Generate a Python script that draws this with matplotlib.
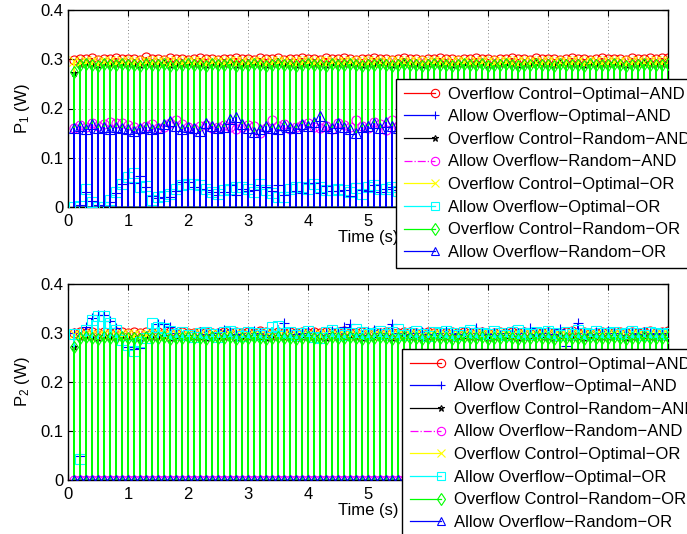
import matplotlib
matplotlib.use("Agg")
import matplotlib.pyplot as plt
import numpy as np
from matplotlib.lines import Line2D
from matplotlib.legend_handler import HandlerLine2D

plt.rcParams['font.family'] = ['Liberation Sans', 'DejaVu Sans']
plt.rcParams['font.size'] = 12
plt.rcParams['mathtext.fontset'] = 'custom'
plt.rcParams['mathtext.rm'] = 'Liberation Sans'
plt.rcParams['mathtext.it'] = 'Liberation Sans'

# sample instants (s)
t = np.round(np.arange(1, 101) * 0.1, 1)

labels = ['Overflow Control\u2212Optimal\u2212AND',
          'Allow Overflow\u2212Optimal\u2212AND',
          'Overflow Control\u2212Random\u2212AND',
          'Allow Overflow\u2212Random\u2212AND',
          'Overflow Control\u2212Optimal\u2212OR',
          'Allow Overflow\u2212Optimal\u2212OR',
          'Overflow Control\u2212Random\u2212OR',
          'Allow Overflow\u2212Random\u2212OR']
colors = ['#ff0000', '#0000ff', '#000000', '#ff00ff',
          '#ffff00', '#00ffff', '#00ff00', '#0000ff']
markers = ['o', '+', '*', 'o', 'x', 's', 'd', '^']
styles = ['-', '-', '-', '-.', '-', '-', '-', '-']

# ---- user 1 power (W) ----
p1_oc_opt_and = [
    0.298, 0.301, 0.300, 0.302, 0.299, 0.301, 0.300, 0.302, 0.301, 0.300,
    0.301, 0.299, 0.304, 0.300, 0.301, 0.299, 0.302, 0.300, 0.301, 0.299,
    0.300, 0.302, 0.301, 0.300, 0.299, 0.301, 0.300, 0.302, 0.300, 0.301,
    0.299, 0.303, 0.301, 0.300, 0.302, 0.299, 0.301, 0.300, 0.302, 0.300,
    0.301, 0.299, 0.302, 0.300, 0.301, 0.303, 0.300, 0.299, 0.301, 0.300,
    0.302, 0.300, 0.301, 0.299, 0.300, 0.302, 0.301, 0.300, 0.299, 0.301,
    0.300, 0.302, 0.300, 0.301, 0.299, 0.301, 0.300, 0.302, 0.301, 0.300,
    0.299, 0.301, 0.300, 0.302, 0.300, 0.301, 0.299, 0.302, 0.300, 0.301,
    0.300, 0.299, 0.301, 0.303, 0.300, 0.301, 0.299, 0.300, 0.302, 0.301,
    0.300, 0.301, 0.299, 0.302, 0.300, 0.301, 0.303, 0.300, 0.302, 0.303]
p1_ao_opt_and = [
    0.000, 0.005, 0.030, 0.012, 0.004, 0.003, 0.011, 0.028, 0.047, 0.050,
    0.048, 0.062, 0.040, 0.022, 0.019, 0.020, 0.020, 0.033, 0.050, 0.050,
    0.040, 0.036, 0.035, 0.030, 0.025, 0.030, 0.044, 0.025, 0.036, 0.033,
    0.035, 0.045, 0.040, 0.033, 0.044, 0.025, 0.030, 0.032, 0.029, 0.049,
    0.049, 0.028, 0.042, 0.032, 0.033, 0.034, 0.023, 0.048, 0.035, 0.032,
    0.044, 0.030, 0.036, 0.041, 0.034, 0.030, 0.038, 0.042, 0.031, 0.036,
    0.040, 0.033, 0.029, 0.037, 0.044, 0.035, 0.031, 0.039, 0.036, 0.030,
    0.042, 0.037, 0.033, 0.035, 0.040, 0.032, 0.038, 0.034, 0.030, 0.041,
    0.036, 0.033, 0.039, 0.035, 0.031, 0.043, 0.036, 0.034, 0.038, 0.032,
    0.037, 0.040, 0.033, 0.035, 0.039, 0.031, 0.036, 0.038, 0.034, 0.036]
p1_oc_rand_and = [
    0.272, 0.290, 0.292, 0.291, 0.289, 0.292, 0.290, 0.291, 0.293, 0.290,
    0.291, 0.289, 0.292, 0.290, 0.291, 0.292, 0.289, 0.291, 0.290, 0.292,
    0.291, 0.290, 0.289, 0.292, 0.291, 0.290, 0.292, 0.289, 0.291, 0.290,
    0.292, 0.291, 0.289, 0.290, 0.292, 0.291, 0.290, 0.289, 0.291, 0.292,
    0.290, 0.291, 0.289, 0.292, 0.290, 0.291, 0.292, 0.290, 0.289, 0.291,
    0.290, 0.292, 0.291, 0.289, 0.290, 0.292, 0.291, 0.290, 0.289, 0.291,
    0.292, 0.290, 0.291, 0.289, 0.290, 0.292, 0.291, 0.290, 0.292, 0.289,
    0.291, 0.290, 0.292, 0.291, 0.289, 0.290, 0.291, 0.292, 0.290, 0.291,
    0.289, 0.292, 0.290, 0.291, 0.290, 0.289, 0.292, 0.291, 0.290, 0.291,
    0.292, 0.290, 0.289, 0.291, 0.290, 0.292, 0.291, 0.290, 0.291, 0.292]
p1_ao_rand_and = [
    0.160, 0.166, 0.162, 0.170, 0.165, 0.168, 0.172, 0.171, 0.170, 0.166,
    0.162, 0.158, 0.165, 0.168, 0.160, 0.163, 0.170, 0.176, 0.168, 0.162,
    0.158, 0.165, 0.167, 0.160, 0.163, 0.166, 0.162, 0.158, 0.163, 0.166,
    0.165, 0.150, 0.160, 0.176, 0.165, 0.168, 0.158, 0.162, 0.166, 0.170,
    0.163, 0.160, 0.165, 0.158, 0.170, 0.166, 0.162, 0.176, 0.164, 0.160,
    0.173, 0.168, 0.156, 0.176, 0.165, 0.160, 0.170, 0.166, 0.162, 0.168,
    0.164, 0.159, 0.170, 0.167, 0.161, 0.165, 0.172, 0.163, 0.158, 0.166,
    0.170, 0.162, 0.165, 0.168, 0.160, 0.164, 0.171, 0.166, 0.161, 0.167,
    0.163, 0.169, 0.160, 0.165, 0.172, 0.164, 0.159, 0.166, 0.170, 0.162,
    0.167, 0.161, 0.168, 0.164, 0.160, 0.171, 0.165, 0.162, 0.168, 0.164]
p1_oc_opt_or = [
    0.296, 0.295, 0.297, 0.296, 0.295, 0.296, 0.297, 0.295, 0.296, 0.297,
    0.296, 0.295, 0.296, 0.297, 0.296, 0.295, 0.297, 0.296, 0.295, 0.296,
    0.297, 0.296, 0.295, 0.296, 0.297, 0.295, 0.296, 0.297, 0.296, 0.295,
    0.296, 0.297, 0.295, 0.296, 0.296, 0.297, 0.295, 0.296, 0.297, 0.296,
    0.295, 0.296, 0.297, 0.296, 0.295, 0.297, 0.296, 0.295, 0.296, 0.297,
    0.296, 0.295, 0.296, 0.297, 0.296, 0.295, 0.296, 0.297, 0.295, 0.296,
    0.297, 0.296, 0.295, 0.296, 0.297, 0.296, 0.295, 0.296, 0.297, 0.296,
    0.295, 0.297, 0.296, 0.295, 0.296, 0.297, 0.296, 0.295, 0.296, 0.297,
    0.296, 0.295, 0.296, 0.297, 0.296, 0.295, 0.297, 0.296, 0.295, 0.296,
    0.297, 0.296, 0.295, 0.296, 0.297, 0.295, 0.296, 0.297, 0.296, 0.296]
p1_ao_opt_or = [
    0.000, 0.002, 0.037, 0.010, 0.000, 0.000, 0.014, 0.030, 0.047, 0.061,
    0.070, 0.041, 0.042, 0.014, 0.020, 0.022, 0.027, 0.037, 0.044, 0.046,
    0.047, 0.044, 0.037, 0.030, 0.027, 0.034, 0.036, 0.041, 0.040, 0.037,
    0.030, 0.047, 0.034, 0.028, 0.020, 0.020, 0.037, 0.040, 0.040, 0.037,
    0.047, 0.041, 0.034, 0.034, 0.037, 0.034, 0.030, 0.038, 0.027, 0.040,
    0.044, 0.037, 0.036, 0.040, 0.032, 0.038, 0.041, 0.035, 0.029, 0.037,
    0.043, 0.036, 0.031, 0.039, 0.042, 0.034, 0.030, 0.038, 0.040, 0.033,
    0.036, 0.041, 0.035, 0.032, 0.039, 0.037, 0.030, 0.036, 0.042, 0.034,
    0.038, 0.031, 0.037, 0.040, 0.033, 0.036, 0.041, 0.035, 0.032, 0.038,
    0.036, 0.039, 0.034, 0.031, 0.037, 0.040, 0.035, 0.033, 0.038, 0.036]
p1_oc_rand_or = [
    0.274, 0.288, 0.290, 0.289, 0.287, 0.290, 0.288, 0.289, 0.291, 0.288,
    0.289, 0.287, 0.290, 0.288, 0.289, 0.290, 0.287, 0.289, 0.288, 0.290,
    0.289, 0.288, 0.287, 0.290, 0.289, 0.288, 0.290, 0.287, 0.289, 0.288,
    0.290, 0.289, 0.287, 0.288, 0.290, 0.289, 0.288, 0.287, 0.289, 0.290,
    0.288, 0.289, 0.287, 0.290, 0.288, 0.289, 0.290, 0.288, 0.287, 0.289,
    0.288, 0.290, 0.289, 0.287, 0.288, 0.290, 0.289, 0.288, 0.287, 0.289,
    0.290, 0.288, 0.289, 0.287, 0.288, 0.290, 0.289, 0.288, 0.290, 0.287,
    0.289, 0.288, 0.290, 0.289, 0.287, 0.288, 0.289, 0.290, 0.288, 0.289,
    0.287, 0.290, 0.288, 0.289, 0.288, 0.287, 0.290, 0.289, 0.288, 0.289,
    0.290, 0.288, 0.287, 0.289, 0.288, 0.290, 0.289, 0.288, 0.289, 0.290]
p1_ao_rand_or = [
    0.160, 0.165, 0.158, 0.168, 0.160, 0.163, 0.158, 0.162, 0.160, 0.158,
    0.155, 0.160, 0.163, 0.158, 0.160, 0.168, 0.175, 0.165, 0.158, 0.162,
    0.160, 0.155, 0.170, 0.165, 0.160, 0.163, 0.178, 0.183, 0.168, 0.160,
    0.152, 0.158, 0.165, 0.160, 0.158, 0.166, 0.163, 0.160, 0.168, 0.165,
    0.172, 0.185, 0.165, 0.160, 0.170, 0.163, 0.158, 0.150, 0.162, 0.165,
    0.170, 0.160, 0.172, 0.165, 0.160, 0.167, 0.158, 0.163, 0.170, 0.162,
    0.159, 0.166, 0.173, 0.161, 0.157, 0.164, 0.170, 0.163, 0.160, 0.168,
    0.175, 0.162, 0.158, 0.165, 0.171, 0.160, 0.163, 0.169, 0.158, 0.164,
    0.172, 0.161, 0.166, 0.159, 0.168, 0.174, 0.162, 0.157, 0.165, 0.170,
    0.163, 0.160, 0.167, 0.172, 0.161, 0.158, 0.166, 0.170, 0.162, 0.165]

# ---- user 2 power (W) ----
p2_oc_opt_and = [
    0.299, 0.302, 0.301, 0.303, 0.300, 0.302, 0.301, 0.303, 0.302, 0.301,
    0.302, 0.300, 0.303, 0.301, 0.302, 0.300, 0.303, 0.301, 0.302, 0.300,
    0.301, 0.303, 0.302, 0.301, 0.300, 0.302, 0.301, 0.303, 0.301, 0.302,
    0.300, 0.304, 0.302, 0.301, 0.303, 0.300, 0.302, 0.301, 0.303, 0.301,
    0.302, 0.300, 0.303, 0.301, 0.302, 0.304, 0.301, 0.300, 0.302, 0.301,
    0.303, 0.301, 0.302, 0.300, 0.301, 0.303, 0.302, 0.301, 0.300, 0.302,
    0.301, 0.303, 0.301, 0.302, 0.300, 0.302, 0.301, 0.303, 0.302, 0.301,
    0.300, 0.302, 0.301, 0.303, 0.301, 0.302, 0.300, 0.303, 0.301, 0.302,
    0.301, 0.300, 0.302, 0.304, 0.301, 0.302, 0.300, 0.301, 0.303, 0.302,
    0.301, 0.302, 0.300, 0.303, 0.301, 0.302, 0.304, 0.301, 0.303, 0.304]
p2_ao_opt_and = [
    0.300, 0.050, 0.312, 0.330, 0.337, 0.337, 0.325, 0.310, 0.292, 0.272,
    0.268, 0.270, 0.292, 0.305, 0.318, 0.318, 0.312, 0.300, 0.294, 0.290,
    0.296, 0.302, 0.298, 0.293, 0.300, 0.306, 0.303, 0.298, 0.295, 0.301,
    0.304, 0.299, 0.296, 0.302, 0.307, 0.320, 0.303, 0.297, 0.300, 0.305,
    0.301, 0.296, 0.299, 0.304, 0.300, 0.313, 0.318, 0.300, 0.296, 0.302,
    0.306, 0.299, 0.295, 0.318, 0.301, 0.297, 0.303, 0.299, 0.302, 0.298,
    0.296, 0.301, 0.304, 0.299, 0.297, 0.302, 0.300, 0.310, 0.303, 0.298,
    0.301, 0.296, 0.300, 0.305, 0.299, 0.302, 0.310, 0.297, 0.301, 0.303,
    0.298, 0.308, 0.273, 0.303, 0.320, 0.300, 0.297, 0.302, 0.299, 0.304,
    0.300, 0.296, 0.303, 0.301, 0.298, 0.302, 0.299, 0.297, 0.301, 0.300]
p2_oc_rand_and = [
    0.272, 0.291, 0.293, 0.292, 0.290, 0.293, 0.291, 0.292, 0.294, 0.291,
    0.292, 0.290, 0.293, 0.291, 0.292, 0.293, 0.290, 0.292, 0.291, 0.293,
    0.292, 0.291, 0.290, 0.293, 0.292, 0.291, 0.293, 0.290, 0.292, 0.291,
    0.293, 0.292, 0.290, 0.291, 0.293, 0.292, 0.291, 0.290, 0.292, 0.293,
    0.291, 0.292, 0.290, 0.293, 0.291, 0.292, 0.293, 0.291, 0.290, 0.292,
    0.291, 0.293, 0.292, 0.290, 0.291, 0.293, 0.292, 0.291, 0.290, 0.292,
    0.293, 0.291, 0.292, 0.290, 0.291, 0.293, 0.292, 0.291, 0.293, 0.290,
    0.292, 0.291, 0.293, 0.292, 0.290, 0.291, 0.292, 0.293, 0.291, 0.292,
    0.290, 0.293, 0.291, 0.292, 0.291, 0.290, 0.293, 0.292, 0.291, 0.292,
    0.293, 0.291, 0.290, 0.292, 0.291, 0.293, 0.292, 0.291, 0.292, 0.293]
p2_ao_rand_and = [0.0] * 100
p2_oc_opt_or = [
    0.297, 0.296, 0.298, 0.297, 0.296, 0.297, 0.298, 0.296, 0.297, 0.298,
    0.297, 0.296, 0.297, 0.298, 0.297, 0.296, 0.298, 0.297, 0.296, 0.297,
    0.298, 0.297, 0.296, 0.297, 0.298, 0.296, 0.297, 0.298, 0.297, 0.296,
    0.297, 0.298, 0.296, 0.297, 0.297, 0.298, 0.296, 0.297, 0.298, 0.297,
    0.296, 0.297, 0.298, 0.297, 0.296, 0.298, 0.297, 0.296, 0.297, 0.298,
    0.297, 0.296, 0.297, 0.298, 0.297, 0.296, 0.297, 0.298, 0.296, 0.297,
    0.298, 0.297, 0.296, 0.297, 0.298, 0.297, 0.296, 0.297, 0.298, 0.297,
    0.296, 0.298, 0.297, 0.296, 0.297, 0.298, 0.297, 0.296, 0.297, 0.298,
    0.297, 0.296, 0.297, 0.298, 0.297, 0.296, 0.298, 0.297, 0.296, 0.297,
    0.298, 0.297, 0.296, 0.297, 0.298, 0.296, 0.297, 0.298, 0.297, 0.297]
p2_ao_opt_or = [
    0.297, 0.043, 0.306, 0.327, 0.335, 0.335, 0.320, 0.306, 0.286, 0.275,
    0.263, 0.281, 0.290, 0.321, 0.312, 0.310, 0.305, 0.298, 0.302, 0.296,
    0.292, 0.299, 0.303, 0.297, 0.291, 0.302, 0.305, 0.299, 0.294, 0.303,
    0.300, 0.296, 0.301, 0.312, 0.315, 0.299, 0.302, 0.296, 0.300, 0.305,
    0.292, 0.290, 0.303, 0.307, 0.299, 0.295, 0.301, 0.309, 0.303, 0.297,
    0.300, 0.304, 0.298, 0.302, 0.309, 0.296, 0.301, 0.305, 0.298, 0.294,
    0.302, 0.299, 0.305, 0.300, 0.296, 0.303, 0.306, 0.299, 0.301, 0.297,
    0.304, 0.299, 0.296, 0.302, 0.307, 0.300, 0.297, 0.303, 0.299, 0.305,
    0.301, 0.296, 0.302, 0.298, 0.306, 0.300, 0.297, 0.304, 0.299, 0.301,
    0.303, 0.298, 0.300, 0.305, 0.299, 0.296, 0.302, 0.300, 0.298, 0.301]
p2_oc_rand_or = [
    0.272, 0.289, 0.291, 0.290, 0.288, 0.291, 0.289, 0.290, 0.292, 0.289,
    0.290, 0.288, 0.291, 0.289, 0.290, 0.291, 0.288, 0.290, 0.289, 0.291,
    0.290, 0.289, 0.288, 0.291, 0.290, 0.289, 0.291, 0.288, 0.290, 0.289,
    0.291, 0.290, 0.288, 0.289, 0.291, 0.290, 0.289, 0.288, 0.290, 0.291,
    0.289, 0.290, 0.288, 0.291, 0.289, 0.290, 0.291, 0.289, 0.288, 0.290,
    0.289, 0.291, 0.290, 0.288, 0.289, 0.291, 0.290, 0.289, 0.288, 0.290,
    0.291, 0.289, 0.290, 0.288, 0.289, 0.291, 0.290, 0.289, 0.291, 0.288,
    0.290, 0.289, 0.291, 0.290, 0.288, 0.289, 0.290, 0.291, 0.289, 0.290,
    0.288, 0.291, 0.289, 0.290, 0.289, 0.288, 0.291, 0.290, 0.289, 0.290,
    0.291, 0.289, 0.288, 0.290, 0.289, 0.291, 0.290, 0.289, 0.290, 0.291]
p2_ao_rand_or = [0.0] * 100

p1_series = [p1_oc_opt_and, p1_ao_opt_and, p1_oc_rand_and, p1_ao_rand_and,
             p1_oc_opt_or, p1_ao_opt_or, p1_oc_rand_or, p1_ao_rand_or]
p2_series = [p2_oc_opt_and, p2_ao_opt_and, p2_oc_rand_and, p2_ao_rand_and,
             p2_oc_opt_or, p2_ao_opt_or, p2_oc_rand_or, p2_ao_rand_or]


class EndMarker(HandlerLine2D):
    # legend entry with the marker sitting at the right end of the line
    def create_artists(self, legend, orig_handle, xdescent, ydescent,
                       width, height, fontsize, trans):
        y = (height - ydescent) / 2
        line = Line2D([-xdescent, -xdescent + width], [y, y])
        self.update_prop(line, orig_handle, legend)
        line.set_marker('None')
        mk = Line2D([-xdescent + width], [y])
        self.update_prop(mk, orig_handle, legend)
        mk.set_linestyle('None')
        line.set_transform(trans)
        mk.set_transform(trans)
        return [line, mk]


fig = plt.figure(figsize=(6.87, 5.34), dpi=100)
W, H = 687.0, 534.0
# 600 px wide axes -> every 0.1 s slot lands on a whole pixel
ax1 = fig.add_axes([68 / W, 1 - 207 / H, 600 / W, 197 / H])
ax2 = fig.add_axes([68 / W, 1 - 480 / H, 600 / W, 196 / H])

for ax, series, ylab, leg_pos in [(ax1, p1_series, r'P$_1$ (W)', (396, 79)),
                                  (ax2, p2_series, r'P$_2$ (W)', (402, 349))]:
    for i, vals in enumerate(series):
        z = 2 + i * 0.1
        # each sample drops back to zero between slots
        ax.vlines(t, 0, vals, colors=colors[i], linestyles=styles[i],
                  lw=1.44, zorder=z)
        ax.hlines(0, t[0], t[-1], colors=colors[i], lw=1.0, zorder=z)
        ax.plot(t, vals, ls='none', marker=markers[i], mfc='none',
                mec=colors[i], ms=6.5 if markers[i] != '*' else 5,
                mew=0.8, zorder=z + 0.05)

    ax.set_xlim(0, 10)
    ax.set_ylim(0, 0.4)
    ax.set_xticks(np.arange(0, 11, 1))
    ax.set_yticks([0, 0.1, 0.2, 0.3, 0.4])
    ax.set_yticklabels(['0', '0.1', '0.2', '0.3', '0.4'])
    ax.grid(True, color='0.35', ls=(0, (1, 3)), lw=0.6)
    ax.tick_params(direction='in', top=True, right=True, length=4,
                   width=0.8, labelsize=12)
    ax.tick_params(axis='x', pad=5)
    ax.tick_params(axis='y', pad=3)
    for s in ax.spines.values():
        s.set_linewidth(1.0)
    ax.set_xlabel('Time (s)', labelpad=1)
    ax.set_ylabel(ylab, labelpad=6)

    handles = [Line2D([], [], color=colors[i], ls=styles[i], lw=0.9,
                      marker=markers[i], mfc='none', mec=colors[i],
                      ms=6 if markers[i] != '*' else 5, mew=0.8)
               for i in range(8)]
    leg = ax.legend(handles, labels, loc='upper left',
                    bbox_to_anchor=(leg_pos[0] / W, 1 - leg_pos[1] / H),
                    bbox_transform=fig.transFigure, borderaxespad=0,
                    fancybox=False, framealpha=1, edgecolor='k',
                    borderpad=0.45, labelspacing=0.46, handlelength=1.9,
                    handletextpad=0.8, fontsize=12,
                    handler_map={Line2D: EndMarker()})
    leg.get_frame().set_linewidth(1.0)
    leg.set_zorder(10)

fig.savefig('out.png', dpi=100)
